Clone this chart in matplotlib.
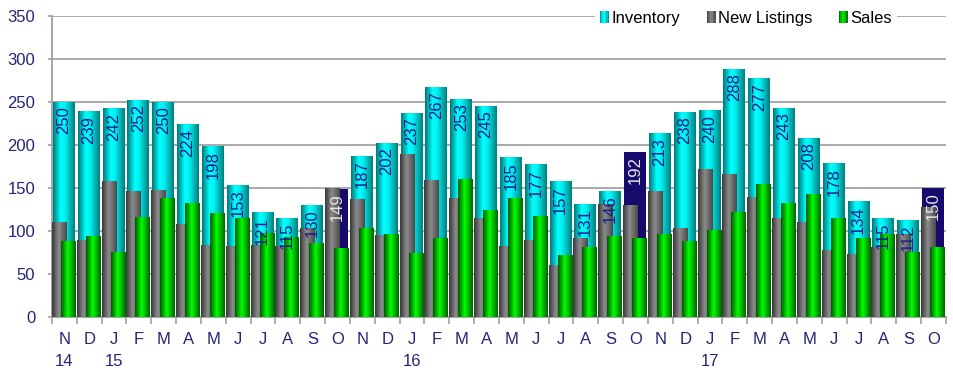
import numpy as np
import matplotlib
matplotlib.use("Agg")
import matplotlib.pyplot as plt
from matplotlib.colors import LinearSegmentedColormap
from matplotlib.legend_handler import HandlerBase
from matplotlib.patches import Patch, Rectangle

plt.rcParams['font.family'] = ['Liberation Sans', 'DejaVu Sans']

# monthly figures, Nov 2014 - Oct 2017
months = ['N', 'D', 'J', 'F', 'M', 'A', 'M', 'J', 'J', 'A', 'S', 'O'] * 3
years = {0: '14', 2: '15', 14: '16', 26: '17'}
inventory = [250, 239, 242, 252, 250, 224, 198, 153, 121, 115, 130, 149,
             187, 202, 237, 267, 253, 245, 185, 177, 157, 131, 146, 192,
             213, 238, 240, 288, 277, 243, 208, 178, 134, 115, 112, 150]
new_listings = [110, 89, 157, 146, 147, 108, 83, 82, 83, 82, 103, 150,
                137, 95, 189, 159, 138, 115, 82, 89, 60, 91, 131, 130,
                146, 103, 171, 166, 139, 115, 110, 77, 73, 81, 96, 127]
sales = [88, 94, 75, 116, 138, 132, 120, 115, 97, 92, 85, 80,
         103, 96, 74, 91, 160, 124, 138, 117, 72, 81, 94, 91,
         96, 88, 101, 121, 154, 132, 142, 114, 91, 96, 75, 81]
highlight = [11, 23, 35]   # Octobers

navy = '#160a6c'
text_blue = '#24247a'
cyan_map = LinearSegmentedColormap.from_list(
    'cyl_cyan', [(0, '#007878'), (0.35, '#00ffff'), (0.55, '#00f2f2'), (1, '#007e7e')])
gray_map = LinearSegmentedColormap.from_list(
    'cyl_gray', [(0, '#383838'), (0.45, '#8c8c8c'), (1, '#4a4a4a')])
green_map = LinearSegmentedColormap.from_list(
    'cyl_green', [(0, '#005800'), (0.45, '#00ff00'), (1, '#006400')])

grad = np.linspace(0, 1, 64).reshape(1, -1)


def shade(ax, bars, cmap, z, skip=()):
    # paint a horizontal gradient inside each bar rectangle
    for k, b in enumerate(bars):
        if k in skip:
            continue
        x0, w, h = b.get_x(), b.get_width(), b.get_height()
        ax.imshow(grad, cmap=cmap, extent=[x0, x0 + w, 0, h], aspect='auto',
                  interpolation='bilinear', zorder=z)


class GradHandler(HandlerBase):
    def __init__(self, cmap):
        super().__init__()
        self.cmap = cmap

    def create_artists(self, legend, orig_handle, xdescent, ydescent,
                       width, height, fontsize, trans):
        n = 6
        arts = []
        for k in range(n):
            r = Rectangle((-xdescent + k * width / n, -ydescent), width / n, height,
                          facecolor=self.cmap((k + 0.5) / n), lw=0, transform=trans)
            arts.append(r)
        return arts


fig = plt.figure(figsize=(9.54, 3.70), dpi=100)
ax = fig.add_axes([52 / 954, 53 / 370, 894 / 954, 301 / 370])

x = np.arange(len(months))
inv_bars = ax.bar(x - 0.02, inventory, width=0.88, color='none', zorder=2)
new_bars = ax.bar(x - 0.2, new_listings, width=0.6, color='none', zorder=3)
sale_bars = ax.bar(x + 0.16, sales, width=0.6, color='none', zorder=4)

for k in highlight:
    inv_bars[k].set_facecolor(navy)

shade(ax, inv_bars, cyan_map, 2, skip=highlight)
shade(ax, new_bars, gray_map, 3)
shade(ax, sale_bars, green_map, 4)

for k, v in enumerate(inventory):
    col = '#e6e6e6' if k in highlight else '#1c1c8c'
    ax.annotate(str(v), (x[k] - 0.02, v), xytext=(0, -3), textcoords='offset points',
                rotation=90, ha='center', va='top', fontsize=12, color=col, zorder=6)

ax.set_xlim(-0.5, len(months) - 0.5)
ax.set_ylim(0, 350)
ax.set_yticks(range(0, 351, 50))
ax.yaxis.grid(True, color='#a3a3a3', lw=1.3, zorder=0)
ax.set_axisbelow(True)

labels = [m + ('\n' + years[k] if k in years else '\n') for k, m in enumerate(months)]
ax.set_xticks(x)
ax.set_xticklabels(labels, linespacing=1.6)
ax.set_xticks(np.arange(-0.5, len(months)), minor=True)
ax.tick_params(axis='x', which='major', length=0, pad=11, labelsize=12, labelcolor=text_blue)
ax.tick_params(axis='x', which='minor', length=5, color='#a0a0a0', width=1.2)
ax.tick_params(axis='y', length=3, color='#a0a0a0', width=1.2, pad=9,
               labelsize=12, labelcolor=text_blue)

for s in ('top', 'right'):
    ax.spines[s].set_visible(False)
for s in ('left', 'bottom'):
    ax.spines[s].set_color('#a0a0a0')
    ax.spines[s].set_linewidth(1.3)

h_inv, h_new, h_sale = Patch(), Patch(), Patch()
leg = ax.legend([h_inv, h_new, h_sale], ['Inventory', 'New Listings', 'Sales'],
                handler_map={h_inv: GradHandler(cyan_map), h_new: GradHandler(gray_map),
                             h_sale: GradHandler(green_map)},
                loc='center', bbox_to_anchor=(0.776, 0.993), ncol=3, frameon=True,
                fancybox=False, edgecolor='none', facecolor='white', framealpha=1,
                fontsize=12, handlelength=0.55, handleheight=0.7, handletextpad=0.12,
                columnspacing=1.6, borderpad=0.3)
leg.set_zorder(10)

fig.savefig('out.png', dpi=100)
